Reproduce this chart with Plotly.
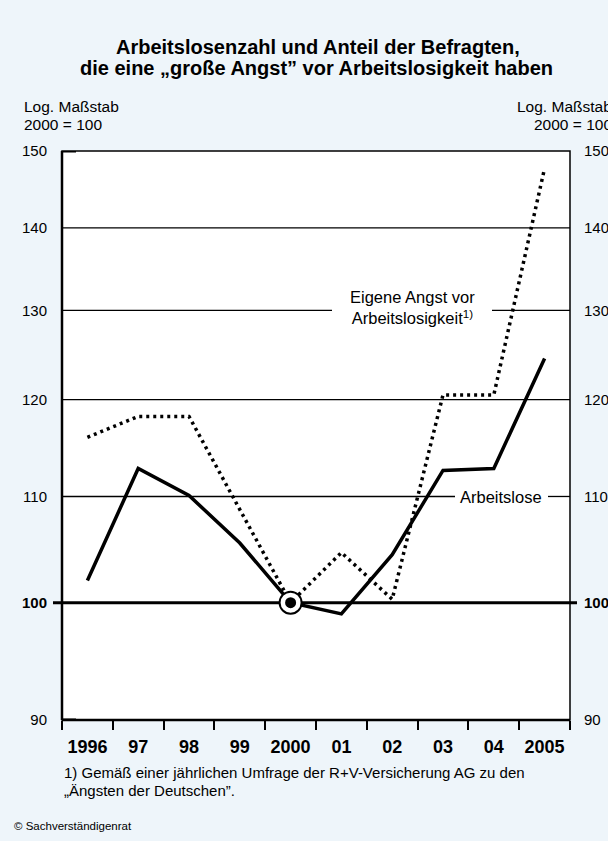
import math
import plotly.graph_objects as go

years = [1996, 1997, 1998, 1999, 2000, 2001, 2002, 2003, 2004, 2005]
year_labels = ["1996", "97", "98", "99", "2000", "01", "02", "03", "04", "2005"]
arbeitslose = [102.0, 112.8, 110.1, 105.5, 100.0, 99.0, 104.4, 112.6, 112.8, 124.5]
angst = [116.0, 118.2, 118.2, 108.8, 100.0, 104.6, 100.3, 120.5, 120.5, 147.7]
y_ticks = [90, 100, 110, 120, 130, 140, 150]
y_ticktext = ["90", "<b>100</b>", "110", "120", "130", "140", "150"]

FONT = "Liberation Sans, Arial, sans-serif"
BG = "#EEF5FA"

# plot-area pixel geometry
L, R, T, B = 62, 570, 151, 720
W, H = 608, 841
YRANGE = [math.log10(y_ticks[0]), math.log10(y_ticks[-1])]


def px(x):
    return (x - L) / (R - L)


def py(y):
    return (B - y) / (B - T)


fig = go.Figure()

fig.add_trace(go.Scatter(
    x=years, y=angst, mode="lines",
    line=dict(color="black", width=3.5, dash="3px,4px"),
    hoverinfo="skip", showlegend=False))
fig.add_trace(go.Scatter(
    x=years, y=arbeitslose, mode="lines",
    line=dict(color="black", width=3.5),
    hoverinfo="skip", showlegend=False))
# base-year marker
fig.add_trace(go.Scatter(
    x=[years[4]], y=[arbeitslose[4]], mode="markers",
    marker=dict(size=22, color="white", line=dict(color="black", width=2)),
    hoverinfo="skip", showlegend=False))
fig.add_trace(go.Scatter(
    x=[years[4]], y=[arbeitslose[4]], mode="markers",
    marker=dict(size=11, color="black"),
    hoverinfo="skip", showlegend=False))
# invisible trace for right axis
fig.add_trace(go.Scatter(
    x=[years[0]], y=[100], yaxis="y2", mode="markers",
    marker=dict(opacity=0), hoverinfo="skip", showlegend=False))

shapes = []
grid = dict(color="black", width=1.3)
for v in [140, 120]:
    shapes.append(dict(type="line", xref="paper", yref="y", x0=0, x1=1, y0=v, y1=v,
                       line=grid, layer="below"))
shapes.append(dict(type="line", xref="paper", yref="y", x0=0, x1=px(332), y0=130, y1=130,
                   line=grid, layer="below"))
shapes.append(dict(type="line", xref="paper", yref="y", x0=px(492), x1=1, y0=130, y1=130,
                   line=grid, layer="below"))
shapes.append(dict(type="line", xref="paper", yref="y", x0=0, x1=px(455), y0=110, y1=110,
                   line=grid, layer="below"))
shapes.append(dict(type="line", xref="paper", yref="y", x0=px(548), x1=1, y0=110, y1=110,
                   line=grid, layer="below"))
# bold 100 line
shapes.append(dict(type="line", xref="paper", yref="y", x0=px(53), x1=px(577), y0=100, y1=100,
                   line=dict(color="black", width=3), layer="below"))
# frame
shapes.append(dict(type="rect", xref="paper", yref="paper", x0=0, x1=1, y0=0, y1=1,
                   line=dict(color="black", width=1.5), layer="above"))
shapes.append(dict(type="line", xref="paper", yref="paper", x0=0, x1=0, y0=0, y1=1,
                   line=dict(color="black", width=2.5), layer="above"))
shapes.append(dict(type="line", xref="paper", yref="paper", x0=0, x1=1, y0=0, y1=0,
                   line=dict(color="black", width=2.5), layer="above"))
for v in [150, 90]:
    shapes.append(dict(type="line", xref="paper", yref="y", x0=0, x1=px(76), y0=v, y1=v,
                       line=dict(color="black", width=3), layer="above"))

annotations = [
    dict(text="<b>Arbeitslosenzahl und Anteil der Befragten,</b>", x=px(318), y=py(47),
         font=dict(size=20)),
    dict(text="<b>die eine „große Angst” vor Arbeitslosigkeit haben</b>", x=px(316), y=py(68),
         font=dict(size=20)),
    dict(text="Log. Maßstab", x=px(22), y=py(106), xanchor="left", font=dict(size=15.5)),
    dict(text="2000 = 100", x=px(22), y=py(124), xanchor="left", font=dict(size=15.5)),
    dict(text="Log. Maßstab", x=px(614), y=py(106), xanchor="right", font=dict(size=15.5)),
    dict(text="2000 = 100", x=px(614), y=py(124), xanchor="right", font=dict(size=15.5)),
    dict(text="Eigene Angst vor<br>Arbeitslosigkeit<sup>1)</sup>", x=px(412), y=py(307),
         font=dict(size=16.5)),
    dict(text="Arbeitslose", x=px(501), y=py(497), font=dict(size=16.5)),
    dict(text="1) Gemäß einer jährlichen Umfrage der R+V-Versicherung AG zu den",
         x=px(62), y=py(773), xanchor="left", font=dict(size=15)),
    dict(text="„Ängsten der Deutschen”.", x=px(62), y=py(790), xanchor="left",
         font=dict(size=15)),
    dict(text="© Sachverständigenrat", x=px(12), y=py(826), xanchor="left",
         font=dict(size=11.5)),
]
for a in annotations:
    a.update(xref="paper", yref="paper", showarrow=False)
    a.setdefault("xanchor", "center")
    a["yanchor"] = "middle"
    a["font"].update(family=FONT, color="black")

fig.update_layout(
    width=W, height=H, autosize=False,
    margin=dict(l=L, r=W - R, t=T, b=H - B, pad=0, autoexpand=False),
    paper_bgcolor=BG, plot_bgcolor="white",
    font=dict(family=FONT, color="black"),
    showlegend=False,
    shapes=shapes, annotations=annotations,
    xaxis=dict(
        range=[1995.5, 2005.5], tickmode="array", tickvals=years,
        ticktext=["<b>%s</b>" % t for t in year_labels],
        ticks="", showgrid=False, zeroline=False, showline=False,
        tickfont=dict(size=18, family=FONT, color="black"),
        ticklabelstandoff=14,
        minor=dict(tickmode="array", tickvals=[y - 0.5 for y in years] + [2005.5],
                   ticks="outside", ticklen=9, tickwidth=1.5, tickcolor="black",
                   showgrid=False),
        fixedrange=True, automargin=False,
    ),
    yaxis=dict(
        type="log", range=YRANGE, tickmode="array", tickvals=y_ticks,
        ticktext=y_ticktext, ticks="", showgrid=False, zeroline=False, showline=False,
        tickfont=dict(size=15, family=FONT, color="black"), ticklabelstandoff=14,
        fixedrange=True, automargin=False,
    ),
    yaxis2=dict(
        type="log", range=YRANGE, overlaying="y", side="right",
        tickmode="array", tickvals=y_ticks, ticktext=y_ticktext, ticks="",
        showgrid=False, zeroline=False, showline=False,
        tickfont=dict(size=15, family=FONT, color="black"), ticklabelstandoff=13,
        fixedrange=True, automargin=False,
    ),
)

fig.write_html(
    "out.html",
    config={"displayModeBar": False, "responsive": False},
    post_script="document.body.style.margin='0';document.body.style.overflow='hidden';",
)
